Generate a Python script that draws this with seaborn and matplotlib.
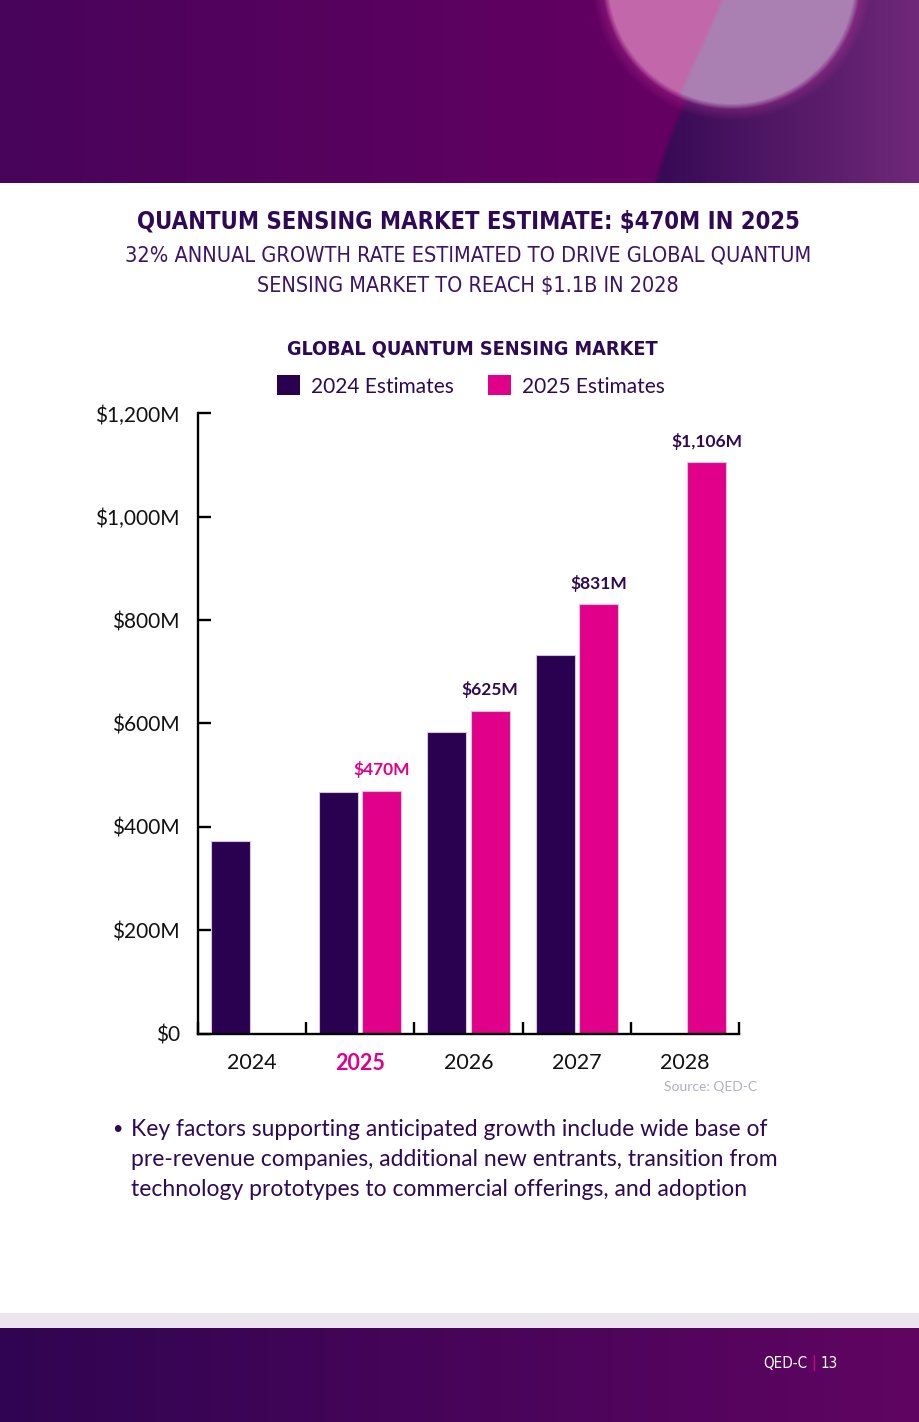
import numpy as np
import pandas as pd
import matplotlib
matplotlib.use('Agg')
import matplotlib.pyplot as plt
from matplotlib import font_manager as fm
import seaborn as sns

# chart data
years = ['2024', '2025', '2026', '2027', '2028']
est_2024 = [373, 467, 583, 732, None]
est_2025 = [None, 470, 625, 831, 1106]
series_names = ['2024 Estimates', '2025 Estimates']
highlight_year = '2025'
y_ticks = [0, 200, 400, 600, 800, 1000, 1200]
y_tick_labels = ['$0', '$200M', '$400M', '$600M', '$800M', '$1,000M', '$1,200M']

title = 'QUANTUM SENSING MARKET ESTIMATE: $470M IN 2025'
subtitle_lines = ['32% ANNUAL GROWTH RATE ESTIMATED TO DRIVE GLOBAL QUANTUM',
                  'SENSING MARKET TO REACH $1.1B IN 2028']
chart_title = 'GLOBAL QUANTUM SENSING MARKET'
bullet_lines = ['Key factors supporting anticipated growth include wide base of',
                'pre-revenue companies, additional new entrants, transition from',
                'technology prototypes to commercial offerings, and adoption']

DARK = '#2A0050'
PINK = '#E0008A'
INK = '#2E0A55'
BODY = ['Lato', 'DejaVu Sans']

sns.set_theme(style='white')
plt.rcParams['font.family'] = BODY


def narrow_font(bold):
    # look for any condensed / narrow face, fall back to Roboto
    hits = []
    for f in fm.fontManager.ttflist:
        nm = f.name + ' ' + str(f.fname)
        if ('Narrow' in nm or 'Condensed' in nm or 'condensed' in str(f.stretch)) \
                and 'Italic' not in nm and 'Oblique' not in nm and f.style == 'normal':
            isbold = (f.weight in ('bold', 700) or 'Bold' in nm)
            if isbold == bold:
                hits.append(f.fname)
    if hits:
        hits.sort(key=lambda p: ('Liberation' not in p, p))
        return fm.FontProperties(fname=hits[0])
    return fm.FontProperties(family='Roboto', weight='bold' if bold else 'light')


W, H = 920, 1422
fig = plt.figure(figsize=(W / 100, H / 100), dpi=100)
fig.patch.set_facecolor('white')
renderer = fig.canvas.get_renderer()


def fy(px):
    return 1 - px / H


def fit_width(txt, target_px):
    # shrink / grow font so the line spans the same width as the reference
    w = txt.get_window_extent(renderer).width
    txt.set_fontsize(txt.get_fontsize() * target_px / w)


def banner_image(w=920, h=183):
    xx, yy = np.meshgrid(np.arange(w), np.arange(h))
    t = np.clip(xx / 650, 0, 1.4)[..., None]
    left = np.array([72, 4, 90])
    right = np.array([100, 0, 98])
    img = left + (right - left) * t
    d = np.hypot(xx - 1100, yy - 300)
    m = np.clip((460 - d) / 6 + 0.5, 0, 1)[..., None]
    dk0 = np.array([55, 10, 85])
    dk1 = np.array([112, 40, 122])
    dark = dk0 + (dk1 - dk0) * np.clip((xx - 660) / 260, 0, 1)[..., None]
    img = img * (1 - m) + dark * m
    d2 = np.hypot(xx - 731, yy + 20)
    glow = np.clip((140 - d2) / 14, 0, 1)[..., None] * 0.35
    img = img * (1 - glow) + np.array([200, 60, 160]) * glow
    m2 = np.clip((126 - d2) / 6 + 0.5, 0, 1)[..., None]
    split = np.clip((xx - (722 - 0.45 * yy)) / 5 + 0.5, 0, 1)[..., None]
    circ = np.array([194, 104, 170]) * (1 - split) + np.array([170, 128, 178]) * split
    img = img * (1 - m2) + circ * m2
    return np.clip(img / 255, 0, 1)


def footer_image(w=920, h=94):
    t = np.linspace(0, 1, w)[None, :, None]
    c0 = np.array([48, 5, 82])
    c1 = np.array([96, 4, 98])
    return np.repeat(c0 + (c1 - c0) * t, h, axis=0) / 255


fp_bold = narrow_font(True)
fp_reg = narrow_font(False)

# header banner
bax = fig.add_axes([0, fy(183), 1, 183 / H])
bax.imshow(banner_image(), aspect='auto', interpolation='bilinear')
bax.axis('off')

# footer
gax = fig.add_axes([0, fy(1328), 1, 15 / H])
gax.set_facecolor('#EBE6EE')
gax.set_xticks([]); gax.set_yticks([])
for s in gax.spines.values():
    s.set_visible(False)
fax = fig.add_axes([0, 0, 1, 94 / H])
fax.imshow(footer_image(), aspect='auto')
fax.axis('off')
ft = fig.text(807 / W, fy(1363), 'QED-C', color='white', fontproperties=fp_reg,
              ha='right', va='center')
ft.set_fontsize(11)
fit_width(ft, 44)
ft2 = fig.text(814 / W, fy(1363), '|', color=PINK, fontproperties=fp_reg,
               ha='center', va='center')
ft2.set_fontsize(ft.get_fontsize())
ft3 = fig.text(821 / W, fy(1363), '13', color='white', fontproperties=fp_reg,
               ha='left', va='center')
ft3.set_fontsize(ft.get_fontsize())

# headings
t1 = fig.text(468 / W, fy(222), title, color=INK, fontproperties=fp_bold,
              ha='center', va='center')
t1.set_fontsize(20)
fit_width(t1, 661)
for i, line in enumerate(subtitle_lines):
    st = fig.text(468 / W, fy(256 + 30 * i), line, color='#3C1466',
                  fontproperties=fp_reg, ha='center', va='center')
    st.set_fontsize(17)
    fit_width(st, 689 if i == 0 else 423)
t2 = fig.text(472 / W, fy(349), chart_title, color=INK, fontproperties=fp_bold,
              ha='center', va='center')
t2.set_fontsize(16)
fit_width(t2, 372)

# data frame
rows = []
for yr, a, b in zip(years, est_2024, est_2025):
    if a is not None:
        rows.append((yr, series_names[0], a))
    if b is not None:
        rows.append((yr, series_names[1], b))
df = pd.DataFrame(rows, columns=['year', 'series', 'value'])

ax = fig.add_axes([198 / W, fy(1033.5), 541 / W, 620 / H])
sns.barplot(data=df, x='year', y='value', hue='series', order=years,
            hue_order=series_names, palette=[DARK, PINK], width=0.8, gap=0.1,
            edgecolor='#D2C6DE', linewidth=0.8, saturation=1, ax=ax)

ax.set_xlim(-0.5, 4.5)
ax.set_ylim(0, 1200)
ax.set_xlabel('')
ax.set_ylabel('')
ax.set_facecolor('none')
for side in ['top', 'right']:
    ax.spines[side].set_visible(False)
for side in ['left', 'bottom']:
    ax.spines[side].set_color('black')
    ax.spines[side].set_linewidth(1.7)

ax.set_yticks(y_ticks)
ax.set_yticklabels(y_tick_labels)
ax.tick_params(axis='y', direction='in', length=9, width=1.7, color='black',
               pad=13, labelsize=15, labelcolor='#111111', left=True)
ax.set_xticks(range(len(years)))
ax.set_xticklabels(years)
ax.set_xticks(np.arange(-0.5, len(years), 1), minor=True)
ax.tick_params(axis='x', which='major', length=0, pad=14, labelsize=15.5,
               labelcolor='#111111')
ax.tick_params(axis='x', which='minor', direction='in', length=9, width=1.7,
               color='black', bottom=True)
for lbl in ax.get_xticklabels():
    if lbl.get_text() == highlight_year:
        lbl.set_color(PINK)
        lbl.set_fontweight('bold')

# value labels on 2025 estimates
pink_vals = [v for v in est_2025 if v is not None]
pink_years = [y for y, v in zip(years, est_2025) if v is not None]
texts = ax.bar_label(ax.containers[1], labels=[f'${v:,.0f}M' for v in pink_vals],
                     padding=9, fontsize=12.5, fontweight='bold')
for t, yr in zip(texts, pink_years):
    t.set_color(PINK if yr == highlight_year else INK)

# legend
leg = ax.legend(loc='center', bbox_to_anchor=(471 / W, fy(386)),
                bbox_transform=fig.transFigure, ncol=2, frameon=False,
                fontsize=15, handlelength=1.1, handleheight=1.1,
                handletextpad=0.55, columnspacing=1.6)
for h in leg.legend_handles:
    h.set_edgecolor('none')
for t in leg.get_texts():
    t.set_color(INK)

fig.text(757 / W, fy(1087), 'Source: QED-C', color='#B4ACCB', fontsize=10,
         ha='right', va='center')

# bullet text
fig.text(117 / W, fy(1129), '\u2022', color=INK, fontsize=13, ha='center', va='center')
for i, line in enumerate(bullet_lines):
    fig.text(131 / W, fy(1129 + 30 * i), line, color=INK, fontsize=16.5,
             ha='left', va='center')

fig.savefig('out.png', dpi=100, facecolor='white')
